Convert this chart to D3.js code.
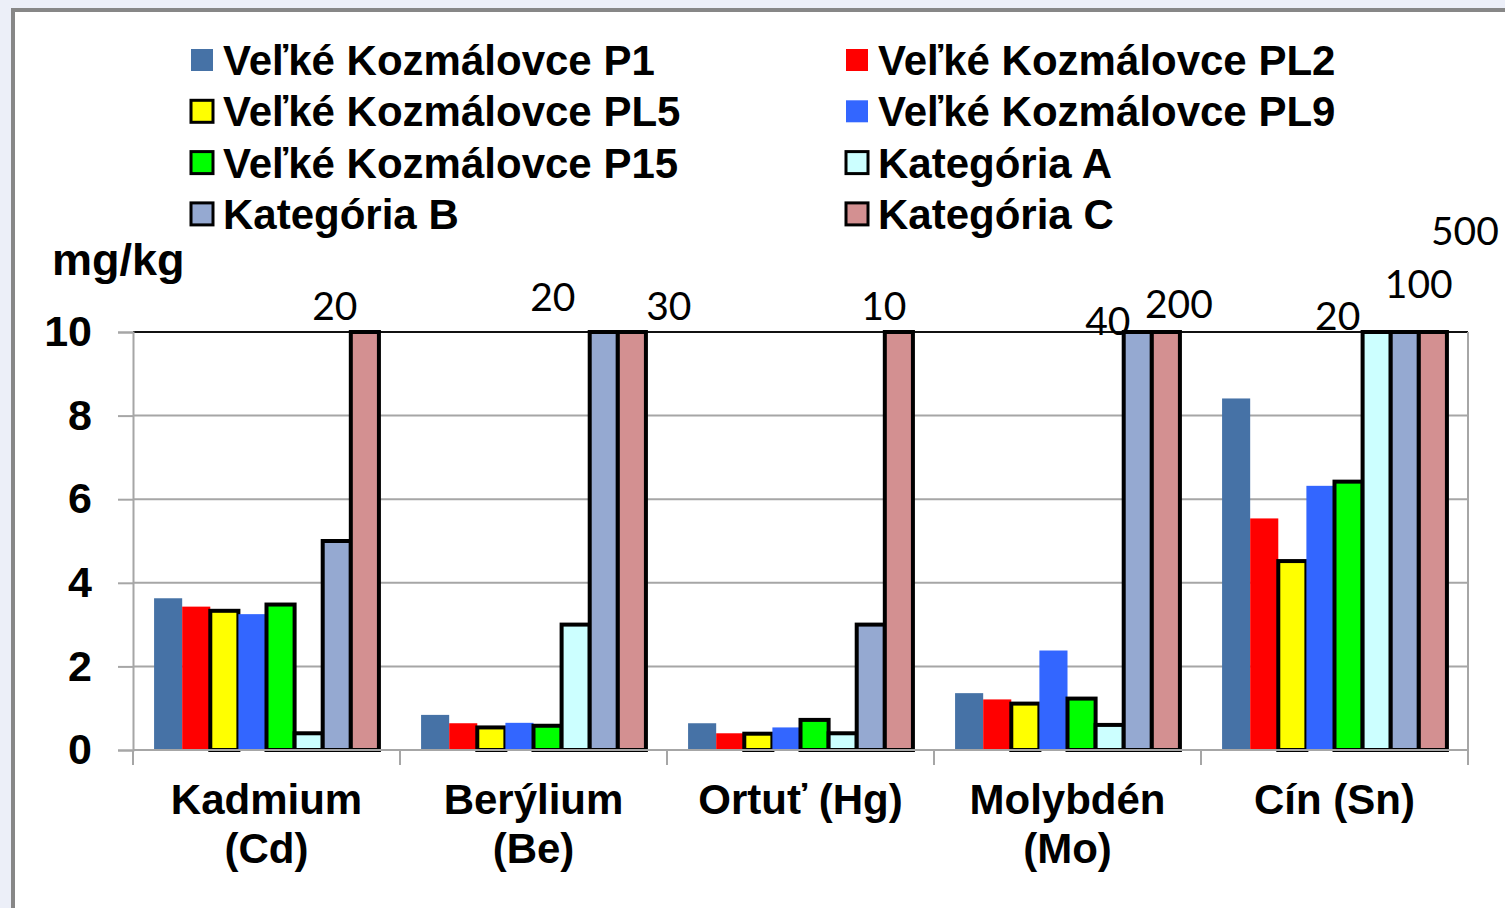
<!DOCTYPE html>
<html>
<head>
<meta charset="utf-8">
<script src="https://cdn.jsdelivr.net/npm/d3@7"></script>
<style>
  html, body { margin: 0; padding: 0; background: #eceff8; }
  svg { display: block; }
</style>
</head>
<body>
<svg id="chart" width="1505" height="908"></svg>
<script>
// element groups (two line labels)
let categories = ["Kadmium (Cd)", "Berýlium (Be)", "Ortuť (Hg)", "Molybdén (Mo)", "Cín (Sn)"]
let categoryLines = [["Kadmium", "(Cd)"], ["Berýlium", "(Be)"], ["Ortuť (Hg)"], ["Molybdén", "(Mo)"], ["Cín (Sn)"]]

let seriesNames = ["Veľké Kozmálovce P1", "Veľké Kozmálovce PL2", "Veľké Kozmálovce PL5", "Veľké Kozmálovce PL9",
  "Veľké Kozmálovce P15", "Kategória A", "Kategória B", "Kategória C"]
let seriesColors = ["#4672a6", "#ff0000", "#ffff00", "#3366ff", "#00ff00", "#ccffff", "#95a9d1", "#d39091"]
let seriesOutlined = [false, false, true, false, true, true, true, true]

// values in mg/kg, one array per series, same order as categories
let p1  = [3.63, 0.84, 0.64, 1.36, 8.41]
let pl2 = [3.43, 0.64, 0.40, 1.21, 5.54]
let pl5 = [3.33, 0.54, 0.39, 1.11, 4.52]
let pl9 = [3.25, 0.65, 0.54, 2.38, 6.32]
let p15 = [3.48, 0.58, 0.72, 1.23, 6.42]
let katA = [0.4, 3, 0.4, 0.6, 20]
let katB = [5, 20, 3, 40, 100]
let katC = [20, 30, 10, 200, 500]
let values = [p1, pl2, pl5, pl9, p15, katA, katB, katC]

let yMax = 10
let yTicks = [0, 2, 4, 6, 8, 10]

// bars cut off at the top get their real value written above
// [category index, series index]
let cutLabels = [[0, 7], [1, 6], [1, 7], [2, 7], [3, 6], [3, 7], [4, 5], [4, 6], [4, 7]]
// hand placed offsets of those labels (like in the original sheet)
let cutLabelShift = [[-30, -12], [-51, -21], [37, -12], [-15, -12], [-30, 3], [13, -14], [-39, -2], [14, -34], [32, -87]]

const svg = d3.select("#chart")
const W = 1505, H = 908
const margin = {left: 133, right: 37, top: 332, bottom: 158}

// white chart frame
svg.append("rect")
  .attr("x", 13).attr("y", 10)
  .attr("width", W).attr("height", H)
  .attr("fill", "#fff")
  .attr("stroke", "#878787")
  .attr("stroke-width", 4)

const x0 = d3.scaleBand().domain(categories).range([margin.left, W - margin.right]).padding(0)
const x1 = d3.scaleBand().domain(d3.range(seriesNames.length)).range([0, x0.bandwidth()])
  .paddingInner(0).paddingOuter(0.75)
const y = d3.scaleLinear().domain([0, yMax]).range([H - margin.bottom, margin.top])

const font = "'Liberation Sans', Arial, sans-serif"

// gridlines
svg.append("g").selectAll("line")
  .data(yTicks.filter(d => d > 0))
  .join("line")
  .attr("x1", margin.left).attr("x2", W - margin.right)
  .attr("y1", d => y(d)).attr("y2", d => y(d))
  .attr("stroke", d => d == yMax ? "#111" : "#a6a6a6")
  .attr("stroke-width", 2)

// right border of plot area
svg.append("line")
  .attr("x1", W - margin.right).attr("x2", W - margin.right)
  .attr("y1", y(yMax)).attr("y2", y(0) + 15)
  .attr("stroke", "#a6a6a6").attr("stroke-width", 2)

// y axis
const yAxis = svg.append("g")
  .attr("transform", `translate(${margin.left},0)`)
  .call(d3.axisLeft(y).tickValues(yTicks).tickSize(15).tickPadding(26).tickFormat(d3.format("d")))
yAxis.select(".domain").attr("stroke", "#a6a6a6").attr("stroke-width", 2)
yAxis.selectAll(".tick line").attr("stroke", "#a6a6a6").attr("stroke-width", 2)
yAxis.selectAll(".tick text")
  .attr("font-family", font).attr("font-weight", "bold").attr("font-size", 43).attr("fill", "#000")

// bars
const groups = svg.append("g").selectAll("g")
  .data(categories)
  .join("g")
  .attr("transform", d => `translate(${x0(d)},0)`)

groups.selectAll("rect")
  .data((c, ci) => values.map((s, si) => ({si: si, v: s[ci]})))
  .join("rect")
  .attr("x", d => x1(d.si))
  .attr("width", x1.bandwidth())
  .attr("y", d => y(Math.min(d.v, yMax)))
  .attr("height", d => y(0) - y(Math.min(d.v, yMax)))
  .attr("fill", d => seriesColors[d.si])
  .attr("stroke", d => seriesOutlined[d.si] ? "#000" : "none")
  .attr("stroke-width", 4)

// x axis line and ticks at group borders
svg.append("line")
  .attr("x1", margin.left).attr("x2", W - margin.right)
  .attr("y1", y(0)).attr("y2", y(0))
  .attr("stroke", "#a6a6a6").attr("stroke-width", 2)
svg.append("g").selectAll("line")
  .data(categories.map(c => x0(c)).concat([W - margin.right]))
  .join("line")
  .attr("x1", d => d).attr("x2", d => d)
  .attr("y1", y(0)).attr("y2", y(0) + 15)
  .attr("stroke", "#a6a6a6").attr("stroke-width", 2)

// category labels
svg.append("g").selectAll("text")
  .data(categories)
  .join("text")
  .attr("x", d => x0(d) + x0.bandwidth() / 2)
  .attr("y", y(0) + 64)
  .attr("text-anchor", "middle")
  .attr("font-family", font).attr("font-weight", "bold").attr("font-size", 42)
  .selectAll("tspan")
  .data((d, i) => categoryLines[i])
  .join("tspan")
  .attr("x", function() { return this.parentNode.getAttribute("x") })
  .attr("dy", (d, i) => i ? 49 : 0)
  .text(d => d)

// labels for the cut off bars
svg.append("g").selectAll("text")
  .data(cutLabels)
  .join("text")
  .attr("x", (d, i) => x0(categories[d[0]]) + x1(d[1]) + x1.bandwidth() / 2 + cutLabelShift[i][0])
  .attr("y", (d, i) => y(yMax) + cutLabelShift[i][1])
  .attr("text-anchor", "middle")
  .attr("font-family", "Lato, 'Open Sans', sans-serif").attr("font-size", 39)
  .text(d => values[d[1]][d[0]])

// unit
svg.append("text")
  .attr("x", 52).attr("y", 275)
  .attr("font-family", font).attr("font-weight", "bold").attr("font-size", 45)
  .text("mg/kg")

// legend, two columns filled row by row
const legend = svg.append("g").selectAll("g")
  .data(seriesNames)
  .join("g")
  .attr("transform", (d, i) => `translate(${i % 2 ? 846 : 191},${60 + Math.floor(i / 2) * 51.3})`)
legend.append("rect")
  .attr("x", 0).attr("y", -11).attr("width", 22).attr("height", 22)
  .attr("fill", (d, i) => seriesColors[i])
  .attr("stroke", (d, i) => seriesOutlined[i] ? "#000" : "none")
  .attr("stroke-width", 3)
legend.append("text")
  .attr("x", 32).attr("y", 15)
  .attr("font-family", font).attr("font-weight", "bold").attr("font-size", 42)
  .text(d => d)
</script>
</body>
</html>
